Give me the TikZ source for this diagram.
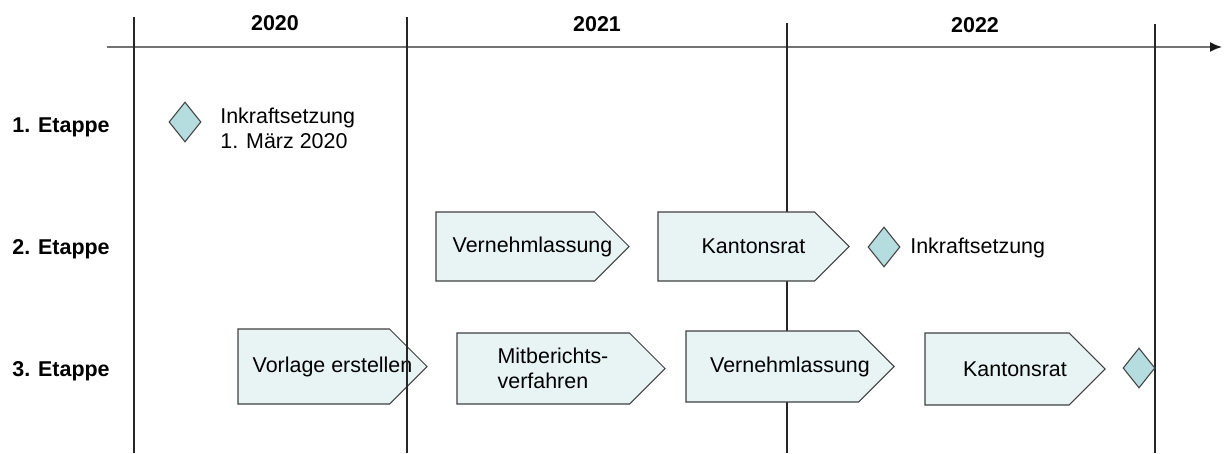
\documentclass[tikz,border=0pt]{standalone}
\usepackage{fontspec}
\setmainfont{Liberation Sans}
\usepackage{xcolor}
\usepackage{tikz}
\usetikzlibrary{shapes,shapes.geometric,arrows.meta,positioning,calc}

\definecolor{boxfill}{HTML}{E8F4F4}
\definecolor{diafill}{HTML}{B5DCDF}
\definecolor{edge}{HTML}{404040}

% pentagon box: [text options]{name}{left x}{tip x}{mid y}{height}{text}
\newcommand{\phasebox}[7][]{%
	\draw[phase] (#3,{#5+#6/2}) -- ({#4-#6/2},{#5+#6/2}) -- (#4,#5)
		-- ({#4-#6/2},{#5-#6/2}) -- (#3,{#5-#6/2}) -- cycle;
	\node[plain, align=center, #1](#2) at ({(#3+#4)/2},#5){#7};}

\begin{document}
\begin{tikzpicture}

	\tikzset{
	phase/.style={draw=edge, fill=boxfill, line width=0.6pt, line join=miter},
	milestone/.style={draw=edge, fill=diafill, line width=0.6pt, diamond, inner sep=0pt,
		minimum width=0.64cm, minimum height=0.8cm},
	plain/.style={inner sep=0pt, align=left, font=\fontsize{12.2}{14.2}\selectfont},
	head/.style={inner sep=0pt, font=\bfseries\fontsize{12.2}{14.2}\selectfont},
	yearline/.style={draw=black!85, line width=0.8pt}
}

\useasboundingbox (0,0) rectangle (24.48,-9.06);

% Zeitachse
\coordinate (A0) at (2.14,-0.94);
\coordinate (A1) at (24.44,-0.94);
\draw[black!55, line width=0.9pt, -{Latex[length=2.4mm,width=2mm,color=black!90]}] (A0) -- (A1);

\draw[yearline] (2.68,-0.34) -- (2.68,-9.06);
\draw[yearline] (15.74,-0.46) -- (15.74,-9.06);
\draw[yearline] (23.10,-0.48) -- (23.10,-9.06);

\node[head](Y0) at (5.50,-0.46){2020};
\node[head](Y1) at (11.94,-0.48){2021};
\node[head](Y2) at (19.50,-0.50){2022};

\node[head](E1) at (1.22,-2.54){1. Etappe};
\node[head](E2) at (1.22,-4.98){2. Etappe};
\node[head](E3) at (1.22,-7.42){3. Etappe};

% 1. Etappe
\node[milestone](M1) at (3.70,-2.44){};
\node[plain, anchor=west](L1) at (4.40,-2.56){Inkraftsetzung\\1. März 2020};

% 2. Etappe
\phasebox{V2}{8.72}{12.58}{-4.93}{1.38}{Vernehmlassung}
\phasebox{K2}{13.16}{16.98}{-4.93}{1.38}{Kantonsrat}
\node[milestone](M2) at (17.68,-4.94){};
\node[plain, anchor=west](L2) at (18.20,-4.96){Inkraftsetzung};

% 3. Etappe
\phasebox{P1}{4.76}{8.54}{-7.33}{1.50}{Vorlage erstellen}
\phasebox[align=left, xshift=-0.16cm]{P2}{9.14}{13.30}{-7.37}{1.42}{Mitberichts-\\verfahren}
\phasebox{P3}{13.72}{17.88}{-7.33}{1.42}{Vernehmlassung}
\phasebox{P4}{18.50}{22.10}{-7.38}{1.44}{Kantonsrat}
\node[milestone](M3) at (22.78,-7.36){};

\draw[yearline] (8.14,-0.34) -- (8.14,-9.06);

\end{tikzpicture}
\end{document}
